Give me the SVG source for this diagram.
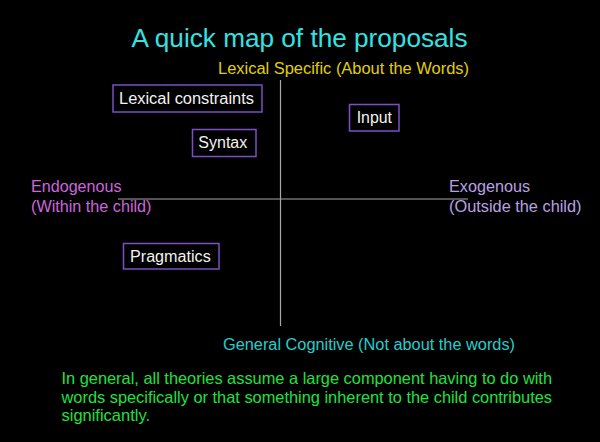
<svg xmlns="http://www.w3.org/2000/svg" width="600" height="442" viewBox="0 0 600 442">
  <style>
    text { font-family: "Liberation Sans", Arial, sans-serif; }
    .title { font-size: 25px; fill: #33e3e3; }
    .axis-top { font-size: 16px; fill: #e3d000; }
    .axis-bottom { font-size: 16px; fill: #22cfcf; }
    .axis-left { font-size: 16px; fill: #cc66dd; }
    .axis-right { font-size: 16px; fill: #b9a0e3; }
    .note { font-size: 16.5px; fill: #22e040; }
    .box { fill: #000000; stroke: #7d4fc4; stroke-width: 1.5; }
    .box-label { font-size: 16px; fill: #f2f2f2; }
    .axis { stroke: #a8a8a8; stroke-width: 1.2; fill: none; }
  </style>

  <rect x="0" y="0" width="600" height="442" fill="#000000"/>

  <text class="title" x="131.5" y="47.3" textLength="336" lengthAdjust="spacingAndGlyphs">A quick map of the proposals</text>

  <!-- the two axes of the map -->
  <g id="connectors">
    <line class="axis" x1="280.5" y1="80" x2="280.5" y2="326"/>
    <line class="axis" x1="118" y1="199" x2="468" y2="199"/>
  </g>

  <!-- axis labels -->
  <text class="axis-top" x="218" y="73.5" textLength="251" lengthAdjust="spacingAndGlyphs">Lexical Specific (About the Words)</text>
  <text class="axis-bottom" x="223" y="349.5" textLength="292" lengthAdjust="spacingAndGlyphs">General Cognitive (Not about the words)</text>
  <text class="axis-left" x="31" y="192" textLength="90.5" lengthAdjust="spacingAndGlyphs">Endogenous</text>
  <text class="axis-left" x="31" y="212" textLength="120.5" lengthAdjust="spacingAndGlyphs">(Within the child)</text>
  <text class="axis-right" x="449" y="192" textLength="81" lengthAdjust="spacingAndGlyphs">Exogenous</text>
  <text class="axis-right" x="449" y="212" textLength="132.5" lengthAdjust="spacingAndGlyphs">(Outside the child)</text>

  <!-- proposals placed on the map -->
  <g id="lexical-constraints">
    <rect class="box" x="113" y="85" width="149" height="27"/>
    <text class="box-label" x="119" y="104" textLength="135" lengthAdjust="spacingAndGlyphs">Lexical constraints</text>
  </g>
  <g id="syntax">
    <rect class="box" x="192.5" y="129.5" width="63.5" height="27"/>
    <text class="box-label" x="198.3" y="148" textLength="49" lengthAdjust="spacingAndGlyphs">Syntax</text>
  </g>
  <g id="input">
    <rect class="box" x="349.5" y="104.5" width="49.5" height="26.5"/>
    <text class="box-label" x="356.7" y="123" textLength="35.3" lengthAdjust="spacingAndGlyphs">Input</text>
  </g>
  <g id="pragmatics">
    <rect class="box" x="123.5" y="243.5" width="95.5" height="25.5"/>
    <text class="box-label" x="130" y="261.7" textLength="80.7" lengthAdjust="spacingAndGlyphs">Pragmatics</text>
  </g>

  <!-- summary note -->
  <text class="note" x="61.5" y="384" textLength="490.5" lengthAdjust="spacingAndGlyphs">In general, all theories assume a large component having to do with</text>
  <text class="note" x="61.5" y="402.5" textLength="490.5" lengthAdjust="spacingAndGlyphs">words specifically or that something inherent to the child contributes</text>
  <text class="note" x="61.5" y="421" textLength="88.5" lengthAdjust="spacingAndGlyphs">significantly.</text>
</svg>
